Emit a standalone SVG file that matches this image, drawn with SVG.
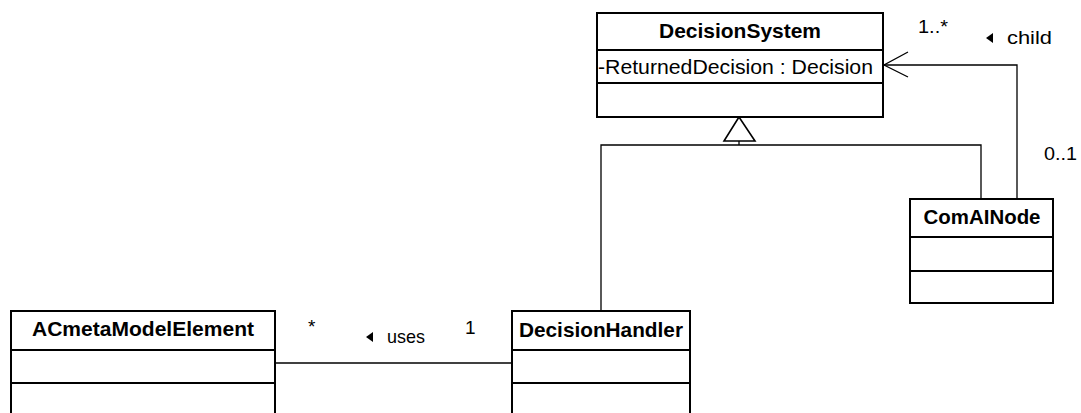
<svg xmlns="http://www.w3.org/2000/svg" width="1081" height="413" viewBox="0 0 1081 413">
  <style>
    .box { fill: #ffffff; stroke: #000000; stroke-width: 2; }
    .sep { stroke: #000000; stroke-width: 2; }
    .conn { fill: none; stroke: #000000; stroke-width: 1.3; }
    .title { font-family: "Liberation Sans", Arial, sans-serif; font-weight: bold; font-size: 20.5px; fill: #000; text-anchor: middle; }
    .attr { font-family: "Liberation Sans", Arial, sans-serif; font-size: 20.5px; fill: #000; }
    .lbl { font-family: "Liberation Sans", Arial, sans-serif; font-size: 19px; fill: #000; }
  </style>
  <rect width="1081" height="413" fill="#ffffff"/>

  <g id="connectors">
    <!-- generalization -->
    <polyline class="conn" points="601,311 601,145 981,145 981,199"/>
    <line class="conn" x1="739" y1="141" x2="739" y2="145"/>
    <polygon points="739,117 724,141 755,141" fill="#ffffff" stroke="#000" stroke-width="1.6"/>
    <!-- child association -->
    <polyline class="conn" points="1017,199 1017,65 884,65"/>
    <polyline class="conn" points="908,52 884,65 908,77"/>
    <text class="lbl" x="918" y="33" textLength="30" lengthAdjust="spacingAndGlyphs">1..*</text>
    <polygon points="986,38 993,33 993,43" fill="#000"/>
    <text class="lbl" x="1007" y="44" textLength="45" lengthAdjust="spacingAndGlyphs">child</text>
    <text class="lbl" x="1044" y="160" textLength="33" lengthAdjust="spacingAndGlyphs">0..1</text>
    <!-- uses association -->
    <line class="conn" x1="275" y1="363" x2="512" y2="363"/>
    <text class="lbl" x="308" y="333">*</text>
    <polygon points="366,337 373,332 373,342" fill="#000"/>
    <text class="lbl" x="387" y="343" textLength="38" lengthAdjust="spacingAndGlyphs">uses</text>
    <text class="lbl" x="465" y="334">1</text>
  </g>

  <g id="DecisionSystem">
    <rect class="box" x="597" y="13" width="286" height="104"/>
    <line class="sep" x1="597" y1="50" x2="883" y2="50"/>
    <line class="sep" x1="597" y1="83" x2="883" y2="83"/>
    <text class="title" x="740" y="38" textLength="162" lengthAdjust="spacingAndGlyphs">DecisionSystem</text>
    <text class="attr" x="598" y="74" textLength="275" lengthAdjust="spacingAndGlyphs">-ReturnedDecision : Decision</text>
  </g>

  <g id="ComAINode">
    <rect class="box" x="910" y="199" width="143" height="104"/>
    <line class="sep" x1="910" y1="237" x2="1053" y2="237"/>
    <line class="sep" x1="910" y1="271" x2="1053" y2="271"/>
    <text class="title" x="982" y="224" textLength="117" lengthAdjust="spacingAndGlyphs">ComAINode</text>
  </g>

  <g id="ACmetaModelElement">
    <rect class="box" x="11" y="311" width="264" height="130"/>
    <line class="sep" x1="11" y1="350" x2="275" y2="350"/>
    <line class="sep" x1="11" y1="383" x2="275" y2="383"/>
    <text class="title" x="143" y="336" textLength="222" lengthAdjust="spacingAndGlyphs">ACmetaModelElement</text>
  </g>

  <g id="DecisionHandler">
    <rect class="box" x="512" y="311" width="178" height="130"/>
    <line class="sep" x1="512" y1="350" x2="690" y2="350"/>
    <line class="sep" x1="512" y1="383" x2="690" y2="383"/>
    <text class="title" x="601" y="337" textLength="164" lengthAdjust="spacingAndGlyphs">DecisionHandler</text>
  </g>
</svg>
